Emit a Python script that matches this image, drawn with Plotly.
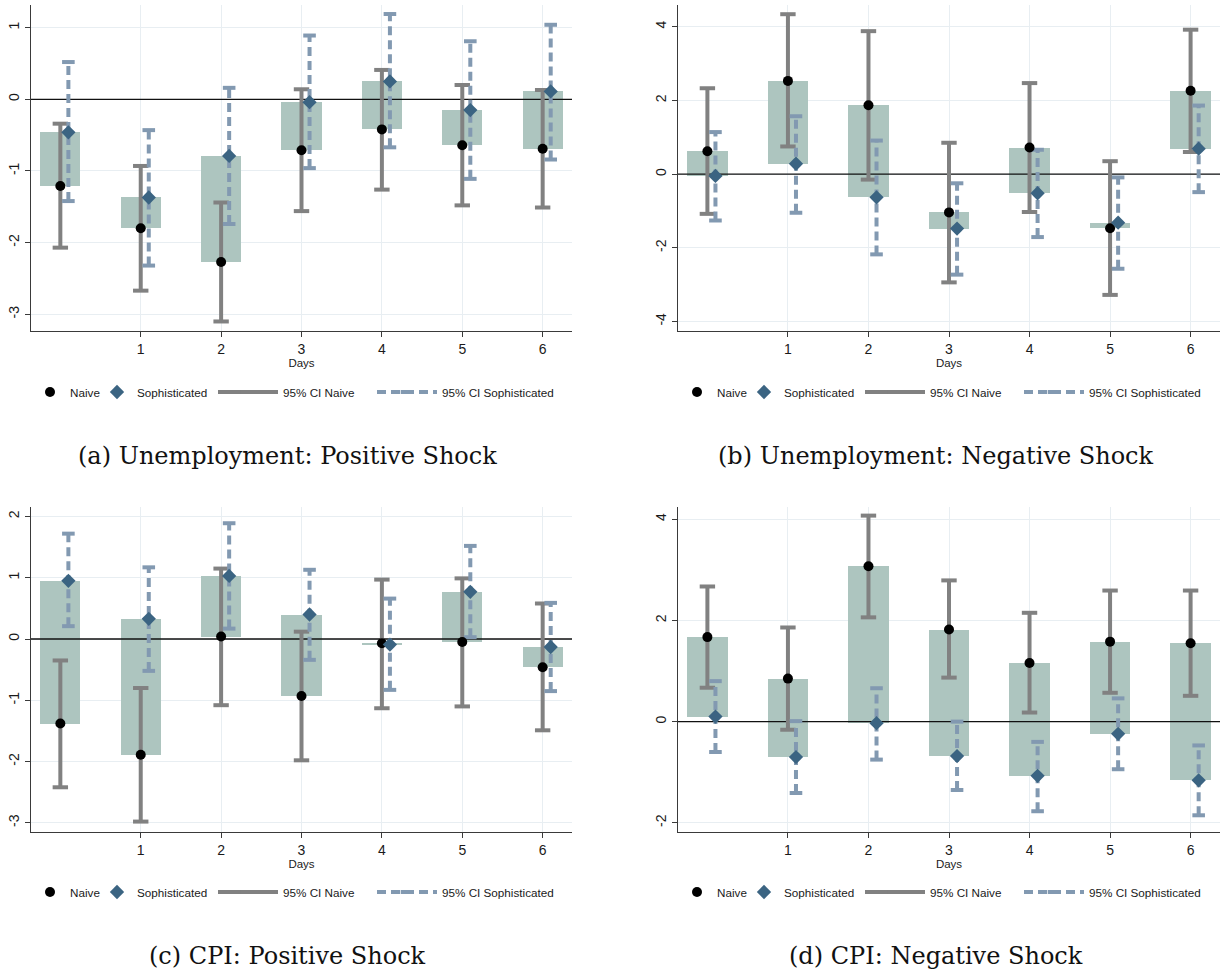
import plotly.graph_objects as go

# ---------------- data ----------------
days = [0, 1, 2, 3, 4, 5, 6]
tick_days = [1, 2, 3, 4, 5, 6]
tick_labels = ["1", "2", "3", "4", "5", "6"]
x_title = "Days"

# (a) Unemployment: Positive Shock
a_naive = [-1.21, -1.80, -2.27, -0.71, -0.42, -0.64, -0.69]
a_naive_lo = [-2.07, -2.67, -3.10, -1.56, -1.26, -1.48, -1.51]
a_naive_hi = [-0.34, -0.93, -1.44, 0.14, 0.41, 0.20, 0.13]
a_soph = [-0.46, -1.37, -0.79, -0.04, 0.25, -0.15, 0.11]
a_soph_lo = [-1.42, -2.32, -1.74, -0.96, -0.67, -1.11, -0.84]
a_soph_hi = [0.52, -0.43, 0.16, 0.89, 1.19, 0.81, 1.04]
a_yticks = [-3, -2, -1, 0, 1]
a_caption = "(a) Unemployment: Positive Shock"

# (b) Unemployment: Negative Shock
b_naive = [0.62, 2.53, 1.87, -1.04, 0.72, -1.47, 2.26]
b_naive_lo = [-1.08, 0.75, -0.15, -2.94, -1.03, -3.28, 0.60]
b_naive_hi = [2.33, 4.34, 3.88, 0.85, 2.47, 0.35, 3.92]
b_soph = [-0.05, 0.28, -0.63, -1.48, -0.52, -1.32, 0.69]
b_soph_lo = [-1.26, -1.05, -2.18, -2.73, -1.71, -2.57, -0.49]
b_soph_hi = [1.14, 1.57, 0.91, -0.25, 0.66, -0.09, 1.86]
b_yticks = [-4, -2, 0, 2, 4]
b_caption = "(b) Unemployment: Negative Shock"

# (c) CPI: Positive Shock
c_naive = [-1.38, -1.89, 0.04, -0.93, -0.07, -0.05, -0.46]
c_naive_lo = [-2.42, -2.98, -1.08, -1.98, -1.13, -1.10, -1.49]
c_naive_hi = [-0.35, -0.80, 1.15, 0.12, 0.97, 0.99, 0.58]
c_soph = [0.95, 0.33, 1.03, 0.40, -0.09, 0.77, -0.13]
c_soph_lo = [0.21, -0.52, 0.17, -0.34, -0.83, 0.03, -0.85]
c_soph_hi = [1.72, 1.17, 1.89, 1.13, 0.66, 1.52, 0.59]
c_yticks = [-3, -2, -1, 0, 1, 2]
c_caption = "(c) CPI: Positive Shock"

# (d) CPI: Negative Shock
d_naive = [1.67, 0.85, 3.07, 1.82, 1.16, 1.58, 1.55]
d_naive_lo = [0.67, -0.16, 2.06, 0.87, 0.18, 0.57, 0.51]
d_naive_hi = [2.67, 1.86, 4.07, 2.79, 2.15, 2.59, 2.59]
d_soph = [0.10, -0.70, -0.03, -0.68, -1.07, -0.24, -1.16]
d_soph_lo = [-0.60, -1.41, -0.75, -1.35, -1.77, -0.94, -1.85]
d_soph_hi = [0.80, 0.01, 0.66, 0.00, -0.40, 0.46, -0.47]
d_yticks = [-2, 0, 2, 4]
d_caption = "(d) CPI: Negative Shock"

legend_names = ["Naive", "Sophisticated", "95% CI Naive", "95% CI Sophisticated"]

# ---------------- styles / layout ----------------
W, H = 1225, 975
BOX_COLOR = "#adc5bf"
NAIVE_COLOR = "#000000"
SOPH_COLOR = "#3b6482"
CI_NAIVE_COLOR = "#818181"
CI_SOPH_COLOR = "#8299b1"
GRID = "#e8eef2"
AXIS = "#3a3a3a"
SANS = "Liberation Sans, Arial, Helvetica, sans-serif"
SERIF = "DejaVu Serif, serif"
SOPH_OFFSET = 0.1
X_RANGE = [-0.365, 6.365]

panels = [
    dict(naive=a_naive, nlo=a_naive_lo, nhi=a_naive_hi, soph=a_soph, slo=a_soph_lo, shi=a_soph_hi,
         yticks=a_yticks, yrange=[-3.233, 1.316], caption=a_caption,
         px=(31, 572), py=(5, 331), leg_y=392, cap_y=456, cap_x=287, lx=0),
    dict(naive=b_naive, nlo=b_naive_lo, nhi=b_naive_hi, soph=b_soph, slo=b_soph_lo, shi=b_soph_hi,
         yticks=b_yticks, yrange=[-4.26, 4.59], caption=b_caption,
         px=(678, 1220), py=(5, 331), leg_y=392, cap_y=456, cap_x=936, lx=647),
    dict(naive=c_naive, nlo=c_naive_lo, nhi=c_naive_hi, soph=c_soph, slo=c_soph_lo, shi=c_soph_hi,
         yticks=c_yticks, yrange=[-3.15, 2.155], caption=c_caption,
         px=(31, 572), py=(507, 832), leg_y=892, cap_y=956, cap_x=287, lx=0),
    dict(naive=d_naive, nlo=d_naive_lo, nhi=d_naive_hi, soph=d_soph, slo=d_soph_lo, shi=d_soph_hi,
         yticks=d_yticks, yrange=[-2.18, 4.24], caption=d_caption,
         px=(678, 1220), py=(507, 832), leg_y=892, cap_y=956, cap_x=936, lx=647),
]

# legend item left positions (px, relative to panel a) and item widths
leg_items_x = [30, 97, 213, 372]
leg_itemwidth = [30, 30, 60, 60]


def seg(xs, lo, hi):
    X, Y = [], []
    for x, l, h in zip(xs, lo, hi):
        X += [x, x, None]
        Y += [l, h, None]
    return X, Y


fig = go.Figure()
layout = dict(
    width=W, height=H, margin=dict(l=0, r=0, t=0, b=0),
    paper_bgcolor="white", plot_bgcolor="white",
    showlegend=True, annotations=[], bargap=0,
)

leg_counter = 0
for i, p in enumerate(panels, start=1):
    xa = "x" if i == 1 else f"x{i}"
    ya = "y" if i == 1 else f"y{i}"
    xkey = "xaxis" if i == 1 else f"xaxis{i}"
    ykey = "yaxis" if i == 1 else f"yaxis{i}"

    soph_x = [d + SOPH_OFFSET for d in days]
    base = [min(n, s) for n, s in zip(p["naive"], p["soph"])]
    height = [abs(s - n) for n, s in zip(p["naive"], p["soph"])]

    legs = []
    for k in range(4):
        leg_counter += 1
        legs.append("legend" if leg_counter == 1 else f"legend{leg_counter}")

    # shaded difference box
    fig.add_trace(go.Bar(x=days, y=height, base=base, width=0.5, marker=dict(color=BOX_COLOR, line=dict(width=0)),
                         showlegend=False, hoverinfo="skip", xaxis=xa, yaxis=ya))
    # zero reference line
    fig.add_trace(go.Scatter(x=X_RANGE, y=[0, 0], mode="lines", line=dict(color="#111111", width=1.3),
                             showlegend=False, hoverinfo="skip", xaxis=xa, yaxis=ya))
    # naive CI
    X, Y = seg(days, p["nlo"], p["nhi"])
    fig.add_trace(go.Scatter(x=X, y=Y, mode="lines+markers", name=legend_names[2], legend=legs[2],
                             line=dict(color=CI_NAIVE_COLOR, width=4),
                             marker=dict(symbol="line-ew", size=11, line=dict(color=CI_NAIVE_COLOR, width=4)),
                             xaxis=xa, yaxis=ya))
    # sophisticated CI
    X, Y = seg(soph_x, p["slo"], p["shi"])
    fig.add_trace(go.Scatter(x=X, y=Y, mode="lines+markers", name=legend_names[3], legend=legs[3],
                             line=dict(color=CI_SOPH_COLOR, width=4, dash="9px,5px"),
                             marker=dict(symbol="line-ew", size=9, line=dict(color=CI_SOPH_COLOR, width=4)),
                             xaxis=xa, yaxis=ya))
    # point estimates
    fig.add_trace(go.Scatter(x=days, y=p["naive"], mode="markers", name=legend_names[0], legend=legs[0],
                             marker=dict(symbol="circle", size=10, color=NAIVE_COLOR),
                             xaxis=xa, yaxis=ya))
    fig.add_trace(go.Scatter(x=soph_x, y=p["soph"], mode="markers", name=legend_names[1], legend=legs[1],
                             marker=dict(symbol="diamond", size=11, color=SOPH_COLOR),
                             xaxis=xa, yaxis=ya))

    x0, x1 = p["px"]
    y0, y1 = p["py"]
    layout[xkey] = dict(
        domain=[x0 / W, x1 / W], range=X_RANGE, anchor=ya,
        tickmode="array", tickvals=tick_days, ticktext=tick_labels,
        showgrid=True, gridcolor=GRID, gridwidth=1, zeroline=False,
        showline=True, linecolor=AXIS, linewidth=1.2,
        ticks="outside", ticklen=5, tickcolor=AXIS, tickwidth=1,
        tickfont=dict(family=SANS, size=14, color="#1a1a1a"),
        title=dict(text=x_title, font=dict(family=SANS, size=11.5, color="#1a1a1a"), standoff=3),
        automargin=False, fixedrange=True,
    )
    layout[ykey] = dict(
        domain=[1 - y1 / H, 1 - y0 / H], range=p["yrange"], anchor=xa,
        tickmode="array", tickvals=p["yticks"], ticktext=[str(v) for v in p["yticks"]],
        tickangle=-90,
        showgrid=True, gridcolor=GRID, gridwidth=1, zeroline=False,
        showline=True, linecolor=AXIS, linewidth=1.2,
        ticks="outside", ticklen=5, tickcolor=AXIS, tickwidth=1,
        tickfont=dict(family=SANS, size=14, color="#1a1a1a"),
        automargin=False, fixedrange=True,
    )

    for k in range(4):
        layout[legs[k]] = dict(
            x=(leg_items_x[k] + p["lx"]) / W, y=1 - p["leg_y"] / H,
            xanchor="left", yanchor="middle", orientation="h",
            itemwidth=leg_itemwidth[k], bgcolor="rgba(0,0,0,0)", borderwidth=0,
            font=dict(family=SANS, size=11.7, color="#1a1a1a"),
            tracegroupgap=0, itemclick=False, itemdoubleclick=False,
        )

    layout["annotations"].append(dict(
        text=p["caption"], xref="paper", yref="paper", x=p["cap_x"] / W, y=1 - p["cap_y"] / H,
        xanchor="center", yanchor="middle", showarrow=False,
        font=dict(family=SERIF, size=24, color="#111111"),
    ))

fig.update_layout(**layout)
fig.write_html("out.html")
